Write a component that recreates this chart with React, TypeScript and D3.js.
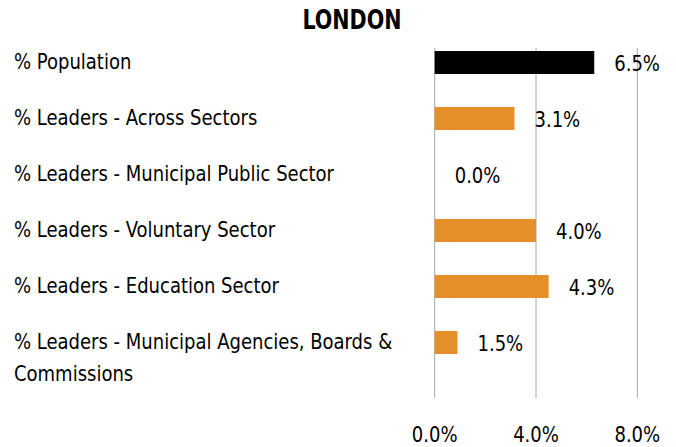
import React from "react";
import * as d3 from "d3";

const categories: string[][] = [
  ["% Population"],
  ["% Leaders - Across Sectors"],
  ["% Leaders - Municipal Public Sector"],
  ["% Leaders - Voluntary Sector"],
  ["% Leaders - Education Sector"],
  ["% Leaders - Municipal Agencies, Boards &", "Commissions"],
];
const barValues: number[] = [6.3, 3.15, 0, 4.0, 4.5, 0.9];
const valueLabels: string[] = ["6.5%", "3.1%", "0.0%", "4.0%", "4.3%", "1.5%"];
const barColors: string[] = ["#000000", "#E58F2A", "#E58F2A", "#E58F2A", "#E58F2A", "#E58F2A"];
const ticks: number[] = [0, 4, 8];
const title = "LONDON";

const W = 676;
const H = 447;
const FONT = "'DejaVu Sans Condensed', 'Liberation Sans Narrow', sans-serif";
const SX = 0.91;

function T({ x, y, anchor, children }: { x: number; y: number; anchor?: string; children: React.ReactNode }) {
  return (
    <text
      transform={`translate(${x},${y}) scale(${SX},1)`}
      textAnchor={anchor || "start"}
      fontSize={22}
      fill="#000"
    >
      {children}
    </text>
  );
}

export default function App() {
  const x = d3.scaleLinear().domain([0, 8]).range([434.7, 637.3]);
  const y = d3
    .scaleBand<number>()
    .domain(d3.range(categories.length))
    .range([34.5, 370.5])
    .paddingInner(0.59)
    .paddingOuter(0.295);
  return (
    <svg
      width={W}
      height={H}
      style={{ position: "absolute", left: 0, top: 0, background: "#fff" }}
      fontFamily={FONT}
    >
      <text
        transform="translate(352,29) scale(0.85,1)"
        textAnchor="middle"
        fontSize={27}
        fontWeight="bold"
        fill="#000"
      >
        {title}
      </text>
      {ticks.map((t) => (
        <line key={t} x1={x(t)} x2={x(t)} y1={48} y2={398} stroke="#A6A6A6" strokeWidth={1} />
      ))}
      {categories.map((c, i) => {
        const cy = (y(i) as number) + y.bandwidth() / 2;
        return (
          <g key={i}>
            <rect
              x={x(0)}
              y={y(i)}
              width={x(barValues[i]) - x(0)}
              height={y.bandwidth()}
              fill={barColors[i]}
            />
            <T x={x(barValues[i]) + 20} y={cy + 8}>
              {valueLabels[i]}
            </T>
            {c.map((line, j) => (
              <T key={j} x={14} y={cy + 6 + j * 32}>
                {line}
              </T>
            ))}
          </g>
        );
      })}
      {ticks.map((t) => (
        <T key={t} x={x(t)} y={442} anchor="middle">
          {d3.format(".1f")(t) + "%"}
        </T>
      ))}
    </svg>
  );
}
